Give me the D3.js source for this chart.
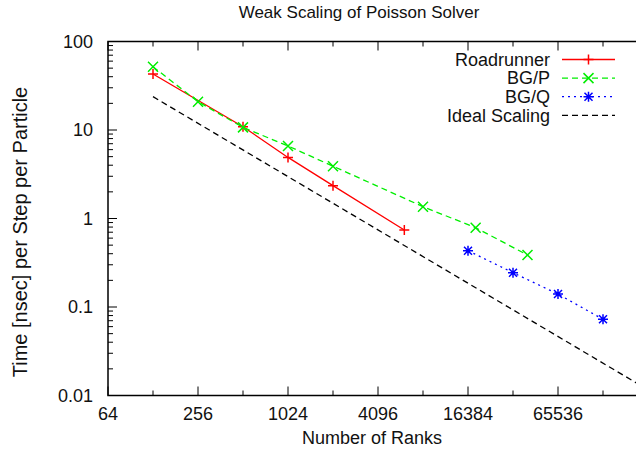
<!DOCTYPE html>
<html>
<head>
<meta charset="utf-8">
<script src="https://cdn.jsdelivr.net/npm/d3@7"></script>
<style>
  body { margin: 0; background: #fff; }
  svg text { font-family: "Liberation Sans", Arial, Helvetica, sans-serif; fill: #111; }
</style>
</head>
<body>
<svg id="chart" width="636" height="456"></svg>
<script>
// data
var rr_ranks = [128, 512, 1024, 2048, 6144]
var rr_time = [43, 10.9, 4.9, 2.35, 0.74]

var bgp_ranks = [128, 256, 512, 1024, 2048, 8192, 18432, 40960]
var bgp_time = [51.9, 20.9, 10.7, 6.6, 3.9, 1.36, 0.787, 0.387]

var bgq_ranks = [16384, 32768, 65536, 131072]
var bgq_time = [0.433, 0.244, 0.140, 0.0726]

var ideal_ranks = [128, 262144]
var ideal_time = [23.8, 0.0116]

var x_tick_labels = [64, 256, 1024, 4096, 16384, 65536]
var y_tick_labels = ["0.01", "0.1", "1", "10", "100"]

var series = [
	{name: "Roadrunner", x: rr_ranks, y: rr_time, colour: "#ff0000", dash: null, marker: "plus"},
	{name: "BG/P", x: bgp_ranks, y: bgp_time, colour: "#00ee00", dash: "6,4", marker: "cross"},
	{name: "BG/Q", x: bgq_ranks, y: bgq_time, colour: "#0000ff", dash: "2,4", marker: "star"},
	{name: "Ideal Scaling", x: ideal_ranks, y: ideal_time, colour: "#000000", dash: "6,4", marker: null}
]

function draw_chart() {
	var svg = d3.select("#chart")
	var p_left = 108, p_right = 648, p_top = 41.5, p_bottom = 395.5
	var font_size = 18

	var x = d3.scaleLog().base(2).domain([64, 262144]).range([p_left, p_right])
	var y = d3.scaleLog().domain([0.01, 100]).range([p_bottom, p_top])

	svg.append("defs").append("clipPath").attr("id", "plotclip")
		.append("rect")
		.attr("x", p_left).attr("y", p_top)
		.attr("width", p_right - p_left).attr("height", p_bottom - p_top)

	// ticks, drawn inward on all four sides
	var ticks = svg.append("g").attr("stroke", "#000").attr("stroke-width", 1)

	d3.range(6, 19).forEach(function(p) {
		var v = Math.pow(2, p)
		var len = (p % 2 == 0) ? 9 : 5
		ticks.append("line").attr("x1", x(v)).attr("x2", x(v)).attr("y1", p_bottom).attr("y2", p_bottom - len)
		ticks.append("line").attr("x1", x(v)).attr("x2", x(v)).attr("y1", p_top).attr("y2", p_top + len)
	})

	d3.range(-2, 3).forEach(function(e) {
		d3.range(1, 10).forEach(function(m) {
			var v = m * Math.pow(10, e)
			if (v > 100) return
			var len = (m == 1) ? 9 : 5
			ticks.append("line").attr("x1", p_left).attr("x2", p_left + len).attr("y1", y(v)).attr("y2", y(v))
			ticks.append("line").attr("x1", p_right).attr("x2", p_right - len).attr("y1", y(v)).attr("y2", y(v))
		})
	})

	svg.append("rect")
		.attr("x", p_left).attr("y", p_top)
		.attr("width", p_right - p_left).attr("height", p_bottom - p_top)
		.attr("fill", "none").attr("stroke", "#000").attr("stroke-width", 1.5)

	// tick labels
	svg.selectAll(".xlab").data(x_tick_labels).enter().append("text")
		.attr("class", "xlab")
		.attr("x", function(d) {return x(d)})
		.attr("y", 420)
		.attr("text-anchor", "middle")
		.attr("font-size", font_size)
		.text(function(d) {return d})

	svg.selectAll(".ylab").data(y_tick_labels).enter().append("text")
		.attr("class", "ylab")
		.attr("x", 93)
		.attr("y", function(d) {return y(+d)})
		.attr("dy", "0.35em")
		.attr("text-anchor", "end")
		.attr("font-size", font_size)
		.text(function(d) {return d})

	// titles
	svg.append("text").attr("x", 359).attr("y", 18).attr("text-anchor", "middle")
		.attr("font-size", 17).text("Weak Scaling of Poisson Solver")
	svg.append("text").attr("x", 372).attr("y", 444).attr("text-anchor", "middle")
		.attr("font-size", font_size).text("Number of Ranks")
	svg.append("text")
		.attr("transform", "translate(27,232) rotate(-90)")
		.attr("text-anchor", "middle")
		.attr("font-size", 20).text("Time [nsec] per Step per Particle")

	function draw_marker(g, kind, cx, cy, colour) {
		var s = 5
		var path = ""
		if (kind == "plus" || kind == "star") {
			path += "M" + (cx - s) + "," + cy + "H" + (cx + s) + "M" + cx + "," + (cy - s) + "V" + (cy + s)
		}
		if (kind == "cross" || kind == "star") {
			var t = (kind == "star") ? 4 : 5
			path += "M" + (cx - t) + "," + (cy - t) + "L" + (cx + t) + "," + (cy + t)
			path += "M" + (cx - t) + "," + (cy + t) + "L" + (cx + t) + "," + (cy - t)
		}
		g.append("path").attr("d", path).attr("stroke", colour).attr("stroke-width", 1.5).attr("fill", "none")
	}

	// series
	var plot = svg.append("g").attr("clip-path", "url(#plotclip)")
	var line = d3.line().x(function(d) {return x(d[0])}).y(function(d) {return y(d[1])})

	series.forEach(function(s) {
		var pts = d3.zip(s.x, s.y)
		plot.append("path")
			.attr("d", line(pts))
			.attr("fill", "none")
			.attr("stroke", s.colour)
			.attr("stroke-width", 1.3)
			.attr("stroke-dasharray", s.dash)
		if (s.marker) {
			pts.forEach(function(p) {
				draw_marker(plot, s.marker, x(p[0]), y(p[1]), s.colour)
			})
		}
	})

	// legend
	var legend = svg.append("g")
	series.forEach(function(s, i) {
		var ly = 59.5 + i * 18.6
		legend.append("text").attr("x", 550).attr("y", ly).attr("dy", "0.35em")
			.attr("text-anchor", "end").attr("font-size", font_size).text(s.name)
		legend.append("line").attr("x1", 562).attr("x2", 615).attr("y1", ly).attr("y2", ly)
			.attr("stroke", s.colour).attr("stroke-width", 1.3).attr("stroke-dasharray", s.dash)
		if (s.marker) draw_marker(legend, s.marker, 588.5, ly, s.colour)
	})
}

draw_chart()
</script>
</body>
</html>
